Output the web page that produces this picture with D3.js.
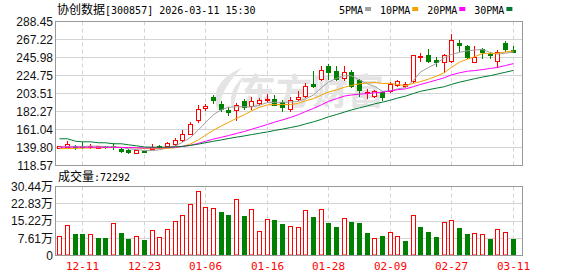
<!DOCTYPE html>
<html>
<head>
<meta charset="utf-8">
<script src="https://cdn.jsdelivr.net/npm/d3@7"></script>
<style>
  html, body { margin: 0; padding: 0; background: #fff; }
  svg { display: block; }
</style>
</head>
<body>
<div id="chart"></div>
<script>
// trading days shown (MM-DD)
const dates = ['12-08','12-09','12-10','12-11','12-12','12-15','12-16','12-17','12-18','12-19',
  '12-22','12-23','12-24','12-25','12-26','12-29','12-30','12-31','01-05','01-06',
  '01-07','01-08','01-09','01-12','01-13','01-14','01-15','01-16','01-19','01-20',
  '01-21','01-22','01-23','01-26','01-27','01-28','01-29','01-30','02-02','02-03',
  '02-04','02-05','02-06','02-09','02-10','02-11','02-12','02-13','02-24','02-25',
  '02-26','02-27','03-02','03-03','03-04','03-05','03-06','03-09','03-10','03-11'];

const open = [139.8,140.6,141.6,142.0,140.5,139.8,141.0,141.5,138.3,137.4,
  133.6,135.4,138.3,141.8,141.3,144.5,148.9,156.0,171.7,186.6,
  199.2,191.4,184.3,183.5,194.1,188.2,192.5,196.1,197.3,193.2,
  185.5,197.3,201.1,214.9,220.9,236.5,230.6,222.0,228.6,218.9,
  204.3,200.8,205.1,206.2,213.8,212.9,218.0,246.4,249.5,243.6,
  240.4,241.6,262.9,259.3,240.4,256.2,250.4,241.6,262.9,255.4];
const high = [141.8,148.0,143.0,146.0,144.0,141.5,142.0,145.3,139.0,138.0,
  137.0,135.8,144.2,142.5,146.5,151.3,161.0,169.7,190.0,191.4,
  202.0,194.4,187.4,192.0,197.3,199.2,198.4,203.2,202.3,196.1,
  199.2,206.2,216.1,230.6,236.5,238.5,235.4,236.5,231.5,220.9,
  209.0,208.2,207.0,216.8,218.9,216.8,249.2,251.0,256.2,246.4,
  250.4,274.0,266.8,261.3,259.0,256.6,253.0,255.0,265.2,259.0];
const low = [139.3,140.2,137.5,139.0,139.5,139.2,139.0,138.3,135.0,133.8,
  133.0,134.0,137.6,139.5,140.5,143.0,147.6,155.2,170.0,183.8,
  192.1,182.6,178.7,171.7,185.5,185.5,191.4,193.0,189.4,182.6,
  182.6,196.1,199.2,210.9,218.9,220.9,218.9,219.7,210.9,201.1,
  198.4,199.8,195.3,205.1,211.8,210.9,216.8,241.6,240.4,236.5,
  228.6,240.4,254.2,245.5,240.4,245.6,245.6,234.5,254.2,252.2];
const close = [141.2,143.6,140.8,140.3,141.8,141.0,140.2,140.5,135.4,134.3,
  136.6,134.3,140.2,140.5,145.7,148.1,156.0,167.8,185.8,188.2,
  195.3,185.5,181.5,189.4,187.4,194.1,196.1,197.3,190.5,187.4,
  196.1,199.2,212.9,212.2,231.5,228.6,220.9,228.6,211.8,207.1,
  205.6,206.8,199.2,214.9,217.7,214.9,248.8,248.0,241.6,241.2,
  249.5,266.8,261.0,246.0,246.4,252.2,248.4,252.2,256.2,253.0];

// volume in lots (手)
const volume = [85000,134000,95000,95000,94000,76000,76000,143000,100000,73000,
  88000,69000,112000,81000,119000,151000,179000,228000,286000,213000,
  209000,194000,179000,249000,175000,204000,110000,160000,157000,139000,
  130000,124000,200000,170000,204000,145000,125000,164000,148000,145000,
  98000,75000,85000,103000,84000,63000,179000,125000,104000,81000,
  148000,155000,121000,94000,98000,94000,72000,119000,103000,72292];

const ma5 = [140.5,141.0,141.2,141.0,141.4,141.4,140.7,140.8,139.8,138.3,
  137.4,136.2,136.2,137.1,139.4,141.7,146.0,151.6,160.7,169.2,
  178.6,184.5,187.3,188.0,187.8,187.6,189.7,192.9,193.1,193.1,
  193.5,194.1,197.2,201.7,210.5,217.0,221.4,224.5,224.3,219.4,
  214.9,212.0,206.1,206.7,208.9,210.6,219.0,228.9,234.2,239.0,
  245.9,249.6,252.1,253.9,254.8,255.4,251.7,249.9,251.1,252.4];
const ma10 = [138.5,138.6,138.8,139.0,139.3,139.5,139.6,139.8,139.9,139.9,
  139.4,138.5,138.5,138.5,138.8,139.6,141.1,143.9,148.9,154.3,
  160.2,165.3,169.4,174.3,178.5,183.1,187.1,190.1,190.5,190.5,
  190.5,191.9,195.0,197.4,201.8,205.3,207.7,210.9,213.0,215.0,
  216.0,216.7,215.3,215.5,214.1,212.8,215.5,217.5,220.5,223.9,
  228.2,234.3,240.5,244.0,246.9,250.6,250.6,251.0,252.5,253.6];
const ma20 = [140.3,140.3,140.2,140.2,140.1,140.1,140.0,140.0,139.9,139.7,
  139.5,139.3,139.3,139.4,139.7,140.2,141.0,142.4,144.7,147.1,
  149.8,151.9,153.9,156.4,158.7,161.3,164.1,167.0,169.7,172.4,
  175.3,178.6,182.2,185.9,190.2,194.2,197.4,200.5,201.8,202.7,
  203.3,204.3,205.2,206.5,208.0,209.0,211.6,214.2,216.7,219.4,
  222.1,225.5,227.9,229.8,230.5,231.7,233.1,234.3,236.5,238.8];
const ma30 = [150.1,150.1,147.2,146.5,146.5,145.4,145.4,144.2,144.2,143.0,
  141.8,140.4,140.2,140.2,140.2,140.6,141.2,142.3,143.8,145.5,
  147.2,148.8,150.4,152.0,153.5,155.0,156.6,158.2,159.9,161.5,
  163.4,165.2,167.6,170.1,173.0,176.0,178.7,181.6,184.1,186.6,
  188.9,191.3,193.3,195.7,198.1,200.4,203.5,206.1,208.0,209.8,
  211.6,214.3,216.9,219.0,220.9,222.9,224.6,226.5,228.6,230.8];

const priceTicks = [118.57,139.80,161.04,182.27,203.51,224.75,245.98,267.22,288.45];
const volTicks = [0,76100,152200,228300,304400];
const dateTicks = ['12-11','12-23','01-06','01-16','01-28','02-09','02-27','03-11'];
const maNames = ['5PMA','10PMA','20PMA','30PMA'];

(function () {
  var width = 578, height = 276;
  var left = 55.5, right = 522.5;
  var mainTop = 21.5, mainBottom = 165.5;
  var volTop = 186.5, volBottom = 255.5;
  var upColor = '#ff0000', downColor = '#008000';
  var maColors = ['#a0a0a0', '#f5a300', '#ff00ff', '#007a33'];
  var gridColor = '#d4d4d4', borderColor = '#999999';
  var monoFont = '"DejaVu Sans Mono", monospace';
  var cjkFont = '"Noto Sans CJK SC", sans-serif';
  var labelFont = '"Liberation Sans", "Noto Sans CJK SC", sans-serif';

  var svg = d3.select('#chart').append('svg')
    .attr('width', width)
    .attr('height', height);

  var x = d3.scaleBand().domain(dates).range([56, 517]);
  var y = d3.scaleLinear().domain([priceTicks[0], priceTicks[priceTicks.length - 1]]).range([mainBottom, mainTop]);
  var vy = d3.scaleLinear().domain([0, volTicks[volTicks.length - 1]]).range([volBottom, volTop]);

  function px(d) {
    return Math.floor(x(d) + x.bandwidth() / 2);
  }
  function crisp(v) {
    return Math.round(v - 0.5) + 0.5;
  }

  // horizontal grid, main panel
  svg.append('g').selectAll('line')
    .data(priceTicks.slice(1, -1))
    .enter().append('line')
    .attr('x1', left).attr('x2', right)
    .attr('y1', function (d) { return crisp(y(d)); })
    .attr('y2', function (d) { return crisp(y(d)); })
    .attr('stroke', gridColor);

  // horizontal grid, volume panel
  svg.append('g').selectAll('line')
    .data(volTicks.slice(1, -1))
    .enter().append('line')
    .attr('x1', left).attr('x2', right)
    .attr('y1', function (d) { return crisp(vy(d)); })
    .attr('y2', function (d) { return crisp(vy(d)); })
    .attr('stroke', gridColor);

  // vertical dashed lines at labelled dates
  [[mainTop, mainBottom], [volTop, volBottom]].forEach(function (span) {
    svg.append('g').selectAll('line')
      .data(dateTicks)
      .enter().append('line')
      .attr('x1', function (d) { return px(d) + 0.5; })
      .attr('x2', function (d) { return px(d) + 0.5; })
      .attr('y1', span[0]).attr('y2', span[1])
      .attr('stroke', gridColor)
      .attr('stroke-dasharray', '4,3');
  });

  // watermark
  var wm = svg.append('g');
  wm.append('path')
    .attr('d', 'M242,68 C220,76 210,94 218,110 C221,94 229,80 242,68 Z M244,76 C232,86 228,100 233,110 C235,98 238,87 244,76 Z')
    .attr('fill', '#e4e4e4');
  wm.append('text')
    .attr('x', 240).attr('y', 105)
    .attr('font-family', cjkFont)
    .attr('font-size', 36)
    .attr('font-weight', 'bold')
    .attr('fill', '#e4e4e4')
    .text('东方财富');

  // candles
  var idx = d3.range(dates.length);
  var candles = svg.append('g').selectAll('g')
    .data(idx)
    .enter().append('g');

  candles.append('line')
    .attr('x1', function (i) { return px(dates[i]) + 0.5; })
    .attr('x2', function (i) { return px(dates[i]) + 0.5; })
    .attr('y1', function (i) { return Math.round(y(high[i])); })
    .attr('y2', function (i) { return Math.round(y(low[i])) + 1; })
    .attr('stroke', function (i) { return close[i] >= open[i] ? upColor : downColor; });

  candles.append('rect')
    .attr('x', function (i) {
      return close[i] >= open[i] ? px(dates[i]) - 1.5 : px(dates[i]) - 2;
    })
    .attr('y', function (i) {
      var top = Math.round(y(Math.max(open[i], close[i])));
      return close[i] >= open[i] ? top + 0.5 : top;
    })
    .attr('width', function (i) { return close[i] >= open[i] ? 4 : 5; })
    .attr('height', function (i) {
      var top = Math.round(y(Math.max(open[i], close[i])));
      var bot = Math.round(y(Math.min(open[i], close[i])));
      return close[i] >= open[i] ? Math.max(0, bot - top) : Math.max(1, bot - top + 1);
    })
    .attr('fill', function (i) { return close[i] >= open[i] ? '#fff' : downColor; })
    .attr('stroke', function (i) { return close[i] >= open[i] ? upColor : 'none'; });

  // moving averages
  [ma5, ma10, ma20, ma30].forEach(function (series, k) {
    var line = d3.line()
      .x(function (d, i) { return px(dates[i]) + 0.5; })
      .y(function (d) { return y(d); });
    svg.append('path')
      .datum(series)
      .attr('d', line)
      .attr('fill', 'none')
      .attr('stroke', maColors[k])
      .attr('stroke-width', 1);
  });

  // volume bars, coloured by change against the previous close
  function rising(i) {
    return i === 0 ? close[i] >= open[i] : close[i] >= close[i - 1];
  }
  svg.append('g').selectAll('rect')
    .data(idx)
    .enter().append('rect')
    .attr('x', function (i) { return rising(i) ? px(dates[i]) - 1.5 : px(dates[i]) - 2; })
    .attr('y', function (i) {
      var top = Math.round(vy(volume[i]));
      return rising(i) ? top + 0.5 : top;
    })
    .attr('width', function (i) { return rising(i) ? 4 : 5; })
    .attr('height', function (i) {
      var top = Math.round(vy(volume[i]));
      return rising(i) ? 255 - top - 0.5 : 255 - top;
    })
    .attr('fill', function (i) { return rising(i) ? '#fff' : downColor; })
    .attr('stroke', function (i) { return rising(i) ? upColor : 'none'; });

  // panel borders
  svg.append('rect')
    .attr('x', left).attr('y', mainTop)
    .attr('width', right - left).attr('height', mainBottom - mainTop)
    .attr('fill', 'none').attr('stroke', borderColor);
  svg.append('rect')
    .attr('x', left).attr('y', volTop)
    .attr('width', right - left).attr('height', volBottom - volTop)
    .attr('fill', 'none').attr('stroke', borderColor);

  // price axis labels
  svg.append('g').selectAll('text')
    .data(priceTicks)
    .enter().append('text')
    .attr('x', 53)
    .attr('y', function (d) { return y(d); })
    .attr('dy', '0.36em')
    .attr('text-anchor', 'end')
    .attr('font-family', labelFont)
    .attr('font-size', 12)
    .attr('fill', '#111')
    .text(function (d) { return d.toFixed(2); });

  // volume axis labels
  svg.append('g').selectAll('text')
    .data(volTicks)
    .enter().append('text')
    .attr('x', 53)
    .attr('y', function (d) { return vy(d); })
    .attr('dy', '0.36em')
    .attr('text-anchor', 'end')
    .attr('font-family', labelFont)
    .attr('font-size', 12)
    .attr('fill', '#111')
    .text(function (d) { return d === 0 ? '0' : (d / 10000).toFixed(2) + '万'; });

  // date labels
  svg.append('g').selectAll('text')
    .data(dateTicks)
    .enter().append('text')
    .attr('x', function (d) { return px(d) + 0.5; })
    .attr('y', 270)
    .attr('text-anchor', 'middle')
    .attr('font-family', monoFont)
    .attr('font-size', 11)
    .attr('fill', '#ff0000')
    .text(function (d) { return d; });

  // title
  var title = svg.append('text')
    .attr('x', 57).attr('y', 14)
    .attr('fill', '#000');
  title.append('tspan')
    .attr('font-family', cjkFont).attr('font-size', 12)
    .text('协创数据');
  title.append('tspan')
    .attr('font-family', monoFont).attr('font-size', 10)
    .text('[300857] 2026-03-11 15:30');

  // legend
  var lx = 339;
  maNames.forEach(function (name, k) {
    svg.append('text')
      .attr('x', lx).attr('y', 14)
      .attr('font-family', monoFont)
      .attr('font-size', 10)
      .attr('fill', '#000')
      .text(name);
    var tw = name.length * 6.02;
    svg.append('rect')
      .attr('x', lx + tw + 2).attr('y', 7)
      .attr('width', 6).attr('height', 4)
      .attr('fill', maColors[k]);
    lx += tw + 17;
  });

  // volume caption
  var cap = svg.append('text')
    .attr('x', 58).attr('y', 181)
    .attr('fill', '#000');
  cap.append('tspan')
    .attr('font-family', cjkFont).attr('font-size', 12)
    .text('成交量');
  cap.append('tspan')
    .attr('font-family', monoFont).attr('font-size', 10)
    .text(':' + volume[volume.length - 1]);
})();
</script>
</body>
</html>
